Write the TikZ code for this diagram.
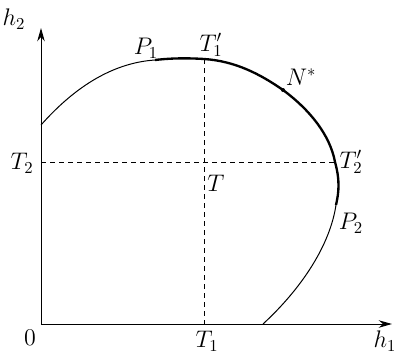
\documentclass[tikz,border=0pt]{standalone}
\usepackage{amsmath}
\usetikzlibrary{arrows.meta}

\begin{document}
\begin{tikzpicture}[
    x=0.6pt, y=-0.6pt,
    axis/.style={line width=0.6pt, -{Stealth[length=8pt,width=4.5pt]}},
    thin/.style={line width=0.6pt},
    front/.style={line width=1.4pt},
    guide/.style={line width=0.6pt, dash pattern=on 3pt off 2.4pt},
    lbl/.style={font=\Large, inner sep=1pt}
  ]
    \useasboundingbox (0,0) rectangle (398,354);
    \coordinate (o) at (41,324);
    \coordinate (xend) at (392,324);
    \coordinate (yend) at (41,28);
    \coordinate (a) at (41,125);
    \coordinate (p1) at (155,60);
    \coordinate (t1p) at (204,59);
    \coordinate (ns) at (283,90);
    \coordinate (t2p) at (335,162);
    \coordinate (p2) at (336,205);
    \coordinate (b) at (263,324);
    \coordinate (t1) at (204,324);
    \coordinate (t2) at (41,162);
    \draw[axis] (o) -- (xend);
    \draw[axis] (o) -- (yend);
    \draw[guide] (t1p) -- (t1);
    \draw[guide] (t2) -- (t2p);
    \draw[thin] (a) .. controls (72,90) and (110,63) .. (p1);
    \draw[front] (p1) .. controls (172,58) and (188,58) .. (t1p)
      .. controls (235,61) and (260,74) .. (ns)
      .. controls (310,110) and (330,135) .. (t2p)
      .. controls (340,180) and (339,192) .. (p2);
    \draw[thin] (p2) .. controls (330,245) and (302,288) .. (b);
    \fill (ns) circle (1.2pt);
    \node[lbl] (lh2) at (14,19) {$h_2$};
    \node[lbl] (lh1) at (385,341) {$h_1$};
    \node[lbl] (lo) at (30,338) {$0$};
    \node[lbl] (lt1) at (207,341) {$T_1$};
    \node[lbl] (lt2) at (22,163) {$T_2$};
    \node[lbl] (lp1) at (146,48) {$P_1$};
    \node[lbl] (lt1p) at (211,45) {$T'_1$};
    \node[lbl] (lns) at (301,77) {$N^*$};
    \node[lbl] (lt2p) at (351,162) {$T'_2$};
    \node[lbl] (lt) at (216,183) {$T$};
    \node[lbl] (lp2) at (351,223) {$P_2$};
\end{tikzpicture}
\end{document}
